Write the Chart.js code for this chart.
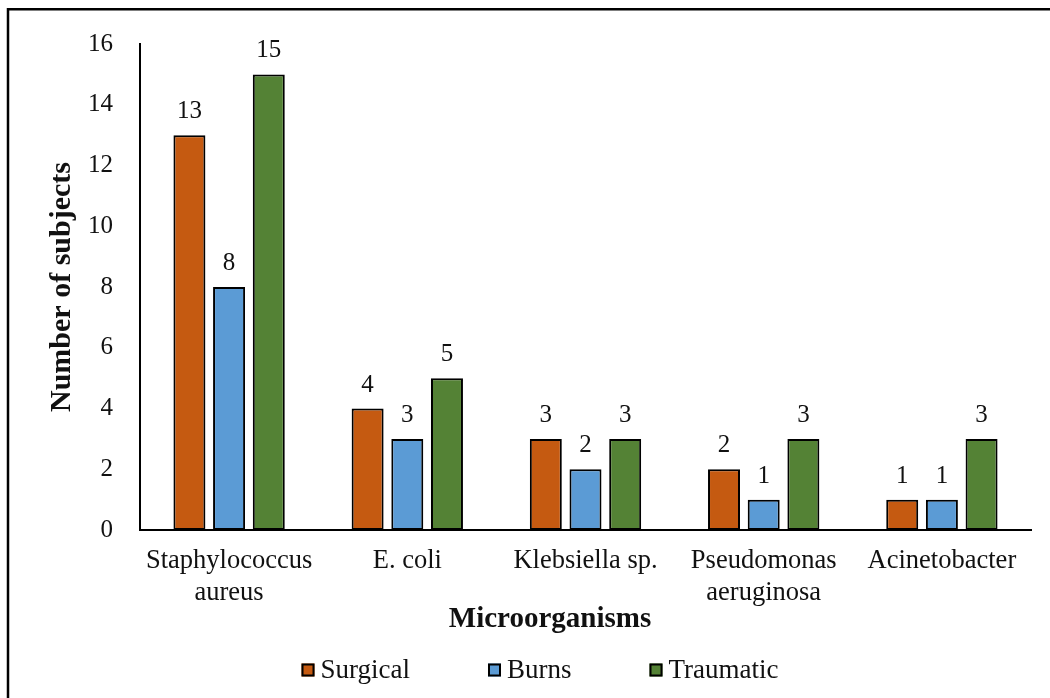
<!DOCTYPE html>
<html>
<head>
<meta charset="utf-8">
<script src="https://cdn.jsdelivr.net/npm/chart.js@4.4.1/dist/chart.umd.min.js"></script>
<style>
  html, body { margin: 0; padding: 0; background: #fff; }
  #wrap { width: 1050px; height: 698px; position: relative; }
</style>
</head>
<body>
<div id="wrap"><canvas id="c" width="1050" height="698"></canvas></div>
<script>
const categories = [['Staphylococcus', 'aureus'], 'E. coli', 'Klebsiella sp.', ['Pseudomonas', 'aeruginosa'], 'Acinetobacter'];
const surgical = [13, 4, 3, 2, 1];
const burns = [8, 3, 2, 1, 1];
const traumatic = [15, 5, 3, 3, 3];
const seriesNames = ['Surgical', 'Burns', 'Traumatic'];
const seriesColors = ['#C55A11', '#5B9BD5', '#548235'];
const yTicks = [0, 2, 4, 6, 8, 10, 12, 14, 16];
const xTitle = 'Microorganisms';
const yTitle = 'Number of subjects';

const FONT = "'Liberation Serif', 'Times New Roman', serif";

const frame = {
  id: 'frame',
  beforeDraw(chart) {
    const ctx = chart.ctx;
    ctx.save();
    ctx.fillStyle = '#fff';
    ctx.fillRect(0, 0, chart.width, chart.height);
    ctx.strokeStyle = '#000';
    ctx.lineWidth = 2.5;
    ctx.beginPath();
    ctx.moveTo(8, chart.height + 5);
    ctx.lineTo(8, 9.25);
    ctx.lineTo(chart.width + 5, 9.25);
    ctx.stroke();
    ctx.restore();
  }
};

const valueLabels = {
  id: 'valueLabels',
  afterDatasetsDraw(chart) {
    const ctx = chart.ctx;
    ctx.save();
    ctx.font = '25px ' + FONT;
    ctx.fillStyle = '#111';
    ctx.textAlign = 'center';
    ctx.textBaseline = 'alphabetic';
    chart.data.datasets.forEach((ds, i) => {
      const meta = chart.getDatasetMeta(i);
      meta.data.forEach((bar, j) => {
        ctx.fillText(String(ds.data[j]), bar.x, bar.y - 17);
      });
    });
    ctx.restore();
  }
};

const xAxisTitle = {
  id: 'xAxisTitle',
  afterDraw(chart) {
    const ctx = chart.ctx;
    ctx.save();
    ctx.font = 'bold 29px ' + FONT;
    ctx.fillStyle = '#111';
    ctx.textAlign = 'center';
    ctx.textBaseline = 'middle';
    ctx.fillText(xTitle, 550, 620);
    ctx.restore();
  }
};

const customLegend = {
  id: 'customLegend',
  afterDraw(chart) {
    const ctx = chart.ctx;
    ctx.save();
    ctx.font = '27px ' + FONT;
    const box = 13, gapText = 6, gapItem = 78;
    const items = chart.data.datasets.map(ds => ({
      text: ds.label, color: ds.backgroundColor,
      w: box + gapText + ctx.measureText(ds.label).width
    }));
    const total = items.reduce((s, it) => s + it.w, 0) + gapItem * (items.length - 1);
    let x = 540 - total / 2;
    const cy = 670;
    ctx.textBaseline = 'middle';
    ctx.textAlign = 'left';
    items.forEach(it => {
      ctx.fillStyle = it.color;
      ctx.fillRect(x, cy - box / 2, box, box);
      ctx.strokeStyle = '#000';
      ctx.lineWidth = 2;
      ctx.strokeRect(x + 1, cy - box / 2 + 1, box - 2, box - 2);
      ctx.fillStyle = '#111';
      ctx.fillText(it.text, x + box + gapText, cy + 1);
      x += it.w + gapItem;
    });
    ctx.restore();
  }
};

const values = [surgical, burns, traumatic];
new Chart(document.getElementById('c'), {
  type: 'bar',
  data: {
    labels: categories,
    datasets: seriesNames.map((name, i) => ({
      label: name,
      data: values[i],
      backgroundColor: seriesColors[i],
      borderColor: '#000',
      borderWidth: 2,
      borderSkipped: false,
      categoryPercentage: 0.668,
      barPercentage: 0.806
    }))
  },
  options: {
    responsive: false,
    animation: false,
    devicePixelRatio: 1,
    layout: { padding: { left: 0, right: 19, top: 44, bottom: 0 } },
    plugins: {
      legend: { display: false },
      tooltip: { enabled: false }
    },
    scales: {
      x: {
        grid: { display: false, drawTicks: false },
        border: { display: true, color: '#000', width: 2 },
        ticks: {
          color: '#111',
          font: { family: FONT, size: 26.5, lineHeight: '32px' },
          padding: 15,
          maxRotation: 0,
          autoSkip: false
        },
        title: { display: false },
        afterFit(scale) { scale.height = 168; }
      },
      y: {
        min: 0,
        max: 16,
        afterBuildTicks(scale) { scale.ticks = yTicks.map(v => ({ value: v })); },
        grid: { display: false, drawTicks: false },
        border: { display: true, color: '#000', width: 2 },
        ticks: {
          color: '#111',
          font: { family: FONT, size: 25 },
          padding: 27
        },
        title: {
          display: true,
          text: yTitle,
          color: '#111',
          font: { family: FONT, size: 30, weight: 'bold' },
          padding: { top: 44, bottom: 0 }
        },
        afterFit(scale) { scale.width = 140; }
      }
    }
  },
  plugins: [frame, valueLabels, xAxisTitle, customLegend]
});
</script>
</body>
</html>
